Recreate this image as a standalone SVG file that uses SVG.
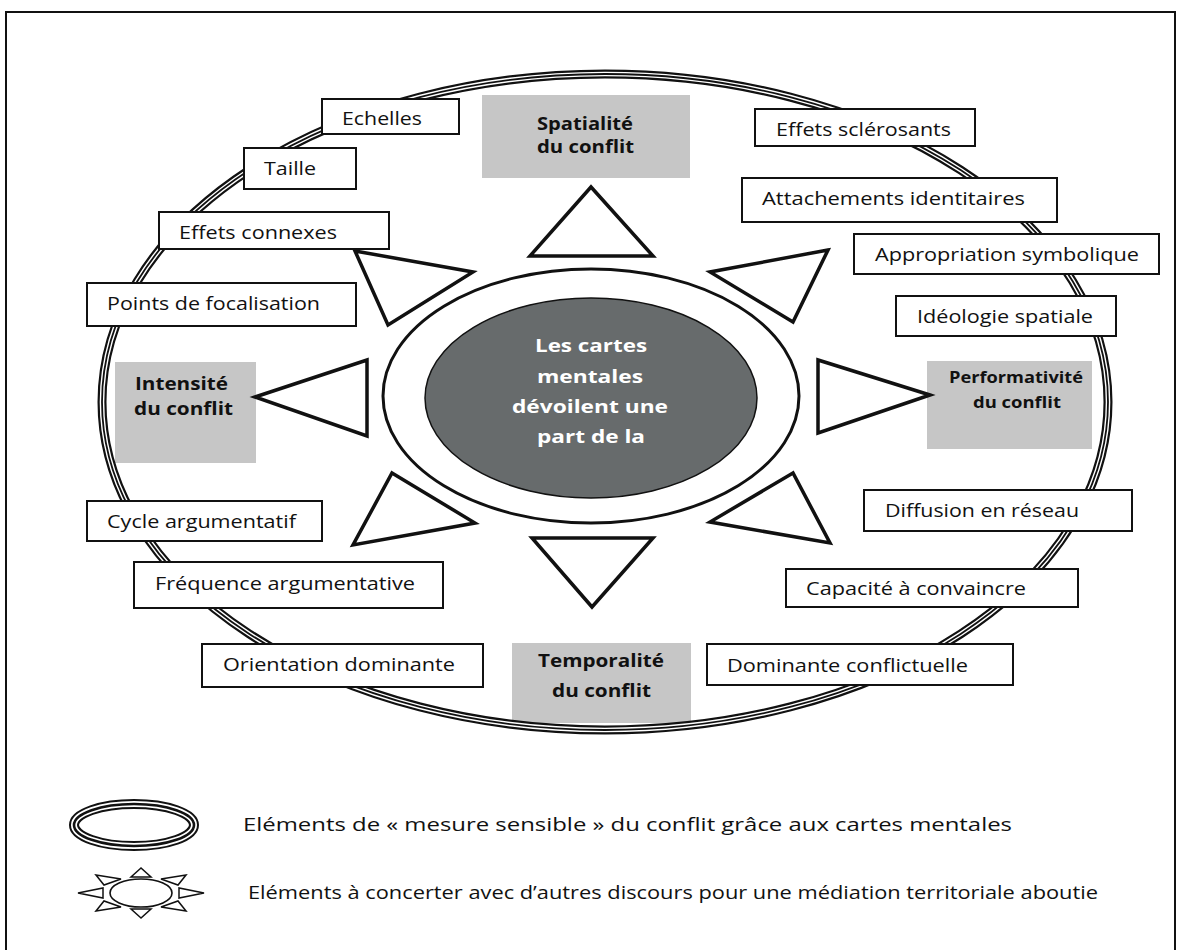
<svg xmlns="http://www.w3.org/2000/svg" width="1183" height="950" viewBox="0 0 1183 950">
<style>
.lbl{font-family:"Open Sans","Liberation Sans",sans-serif;font-size:18px;fill:#111}
.bold{font-family:"Open Sans","Liberation Sans",sans-serif;font-size:18px;font-weight:bold;fill:#111}
.ctr{font-family:"Open Sans","Liberation Sans",sans-serif;font-size:18px;font-weight:bold;fill:#fff}
.box{fill:#fff;stroke:#111;stroke-width:2}
.gray{fill:#c6c6c6;stroke:none}
.tri{fill:#fff;stroke:#111;stroke-width:3.5;stroke-linejoin:miter}
.stri{fill:#fff;stroke:#111;stroke-width:1.5}
</style>
<rect x="0" y="0" width="1183" height="950" fill="#fff"/>
<rect id="frame" x="6" y="12" width="1169" height="950" fill="none" stroke="#111" stroke-width="2"/>

<g id="gray-boxes">
  <g id="spatialite"><rect class="gray" x="482" y="95" width="208" height="83"/>
    <text class="bold" x="537" y="130" textLength="96" lengthAdjust="spacingAndGlyphs">Spatialité</text>
    <text class="bold" x="537" y="153" textLength="97" lengthAdjust="spacingAndGlyphs">du conflit</text></g>
  <g id="intensite"><rect class="gray" x="115" y="362" width="141" height="101"/>
    <text class="bold" x="135" y="390" textLength="93" lengthAdjust="spacingAndGlyphs">Intensité</text>
    <text class="bold" x="134" y="415" textLength="99" lengthAdjust="spacingAndGlyphs">du conflit</text></g>
  <g id="performativite"><rect class="gray" x="927" y="361" width="165" height="88"/>
    <text class="bold" style="font-size:16px" x="949" y="383" textLength="134" lengthAdjust="spacingAndGlyphs">Performativité</text>
    <text class="bold" style="font-size:16px" x="973" y="408" textLength="88" lengthAdjust="spacingAndGlyphs">du conflit</text></g>
  <g id="temporalite"><rect class="gray" x="512" y="643" width="179" height="80"/>
    <text class="bold" x="538" y="667" textLength="126" lengthAdjust="spacingAndGlyphs">Temporalité</text>
    <text class="bold" x="552" y="697" textLength="99" lengthAdjust="spacingAndGlyphs">du conflit</text></g>
</g>

<g id="outer-ring">
  <ellipse cx="605" cy="402" rx="503" ry="328" fill="none" stroke="#111" stroke-width="9"/>
  <ellipse cx="605" cy="402" rx="503" ry="328" fill="none" stroke="#fff" stroke-width="4.6"/>
  <ellipse cx="605" cy="402" rx="503" ry="328" fill="none" stroke="#111" stroke-width="1.8"/>
</g>

<g id="center">
  <ellipse cx="591" cy="396" rx="208" ry="127" fill="#fff" stroke="#111" stroke-width="3"/>
  <ellipse cx="591" cy="398" rx="166" ry="100" fill="#676b6c" stroke="#111" stroke-width="1.5"/>
  <text class="ctr" x="535" y="352" textLength="112" lengthAdjust="spacingAndGlyphs">Les cartes</text>
  <text class="ctr" x="537" y="383" textLength="106" lengthAdjust="spacingAndGlyphs">mentales</text>
  <text class="ctr" x="512" y="413" textLength="156" lengthAdjust="spacingAndGlyphs">dévoilent une</text>
  <text class="ctr" x="537" y="443" textLength="108" lengthAdjust="spacingAndGlyphs">part de la</text>
</g>

<g id="rays">
  <polygon class="tri" points="591,187 530,256 653,256"/>
  <polygon class="tri" points="592,607 532,538 653,538"/>
  <polygon class="tri" points="255,397 367,360 367,436"/>
  <polygon class="tri" points="930,395 818,360 818,433"/>
  <polygon class="tri" points="355,251 473,272 388,325"/>
  <polygon class="tri" points="828,250 710,272 793,322"/>
  <polygon class="tri" points="392,473 475,523 353,545"/>
  <polygon class="tri" points="793,473 710,522 830,543"/>
</g>

<g id="labels">
  <g id="echelles"><rect class="box" x="322" y="99" width="137" height="35"/><text class="lbl" x="342" y="125" textLength="80" lengthAdjust="spacingAndGlyphs">Echelles</text></g>
  <g id="taille"><rect class="box" x="244" y="148" width="112" height="41"/><text class="lbl" x="264" y="175" textLength="52" lengthAdjust="spacingAndGlyphs">Taille</text></g>
  <g id="effets-connexes"><rect class="box" x="159" y="212" width="230" height="37"/><text class="lbl" x="179" y="239" textLength="158" lengthAdjust="spacingAndGlyphs">Effets connexes</text></g>
  <g id="points-focalisation"><rect class="box" x="87" y="283" width="269" height="43"/><text class="lbl" x="107" y="310" textLength="213" lengthAdjust="spacingAndGlyphs">Points de focalisation</text></g>
  <g id="effets-sclerosants"><rect class="box" x="755" y="109" width="220" height="37"/><text class="lbl" x="776" y="136" textLength="175" lengthAdjust="spacingAndGlyphs">Effets sclérosants</text></g>
  <g id="attachements"><rect class="box" x="742" y="178" width="315" height="44"/><text class="lbl" x="762" y="205" textLength="263" lengthAdjust="spacingAndGlyphs">Attachements identitaires</text></g>
  <g id="appropriation"><rect class="box" x="854" y="234" width="305" height="40"/><text class="lbl" x="875" y="261" textLength="264" lengthAdjust="spacingAndGlyphs">Appropriation symbolique</text></g>
  <g id="ideologie"><rect class="box" x="896" y="296" width="220" height="40"/><text class="lbl" x="917" y="323" textLength="176" lengthAdjust="spacingAndGlyphs">Idéologie spatiale</text></g>
  <g id="cycle"><rect class="box" x="87" y="501" width="235" height="40"/><text class="lbl" x="107" y="528" textLength="189" lengthAdjust="spacingAndGlyphs">Cycle argumentatif</text></g>
  <g id="frequence"><rect class="box" x="134" y="562" width="309" height="46"/><text class="lbl" x="155" y="590" textLength="260" lengthAdjust="spacingAndGlyphs">Fréquence argumentative</text></g>
  <g id="orientation"><rect class="box" x="202" y="644" width="281" height="43"/><text class="lbl" x="223" y="671" textLength="232" lengthAdjust="spacingAndGlyphs">Orientation dominante</text></g>
  <g id="diffusion"><rect class="box" x="864" y="490" width="268" height="41"/><text class="lbl" x="885" y="517" textLength="194" lengthAdjust="spacingAndGlyphs">Diffusion en réseau</text></g>
  <g id="capacite"><rect class="box" x="786" y="569" width="292" height="38"/><text class="lbl" x="806" y="595" textLength="220" lengthAdjust="spacingAndGlyphs">Capacité à convaincre</text></g>
  <g id="dominante"><rect class="box" x="707" y="644" width="306" height="41"/><text class="lbl" x="727" y="672" textLength="241" lengthAdjust="spacingAndGlyphs">Dominante conflictuelle</text></g>
</g>

<g id="legend">
  <g id="legend-ring">
    <ellipse cx="134" cy="825" rx="60" ry="21" fill="none" stroke="#111" stroke-width="10"/>
    <ellipse cx="134" cy="825" rx="60" ry="21" fill="none" stroke="#fff" stroke-width="6"/>
    <ellipse cx="134" cy="825" rx="60" ry="21" fill="none" stroke="#111" stroke-width="2.6"/>
    <text class="lbl" x="243" y="831" textLength="769" lengthAdjust="spacingAndGlyphs">Eléments de « mesure sensible » du conflit grâce aux cartes mentales</text>
  </g>
  <g id="legend-sun">
    <g transform="translate(141,893)">
      <ellipse cx="0" cy="0" rx="31" ry="14" fill="#fff" stroke="#111" stroke-width="1.6"/>
      <polygon class="stri" points="0,-25 -10,-16 10,-16"/>
      <polygon class="stri" points="0,25 -10,16 10,16"/>
      <polygon class="stri" points="-63,0 -38,-5 -38,5"/>
      <polygon class="stri" points="63,0 38,-5 38,5"/>
      <polygon class="stri" points="-45,-18 -20,-14 -37,-8"/>
      <polygon class="stri" points="45,-18 20,-14 37,-8"/>
      <polygon class="stri" points="-45,18 -20,14 -37,8"/>
      <polygon class="stri" points="45,18 20,14 37,8"/>
    </g>
    <text class="lbl" x="248" y="899" textLength="850" lengthAdjust="spacingAndGlyphs">Eléments à concerter avec d’autres discours pour une médiation territoriale aboutie</text>
  </g>
</g>
</svg>
